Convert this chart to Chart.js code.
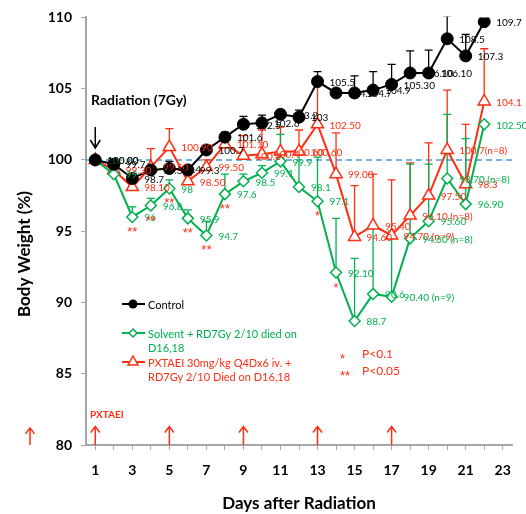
<!DOCTYPE html>
<html>
<head>
<meta charset="utf-8">
<script src="https://cdn.jsdelivr.net/npm/chart.js@4.4.0/dist/chart.umd.min.js"></script>
<style>
  html, body { margin: 0; padding: 0; background: #fff; }
</style>
</head>
<body>
<canvas id="bw_chart" width="526" height="514"></canvas>
<script>
var days = [1, 2, 3, 4, 5, 6, 7, 8, 9, 10, 11, 12, 13, 14, 15, 16, 17, 18, 19, 20, 21, 22];
var xTickDays = [1, 3, 5, 7, 9, 11, 13, 15, 17, 19, 21, 23];
var yTicks = [80, 85, 90, 95, 100, 105, 110];

var control = [100, 99.7, 98.7, 99.3, 99.4, 99.3, 100.7, 101.6, 102.5, 102.6, 103.2, 103.0, 105.5, 104.7, 104.7, 104.9, 105.3, 106.1, 106.1, 108.5, 107.3, 109.7];
var controlErr = [0, 0.3, 0.2, 0.3, 0.5, 0.3, 0.3, 0.35, 0.55, 0.55, 0.3, 0.5, 0.7, 0.3, 1.2, 1.3, 1.4, 1.55, 1.6, 1.6, 1.5, 0];
var controlLabels = ["100.00", "99.7", "98.7", "99.3", "99.4", "99.3", "100.7", "101.6", "102.5", "102.6", "103.2", "103", "105.5", "104.7", "104.7", "104.9", "105.30", "106.10", "106.10", "108.5", "107.3", "109.7"];

var solvent = [100, 99.0, 96.0, 96.8, 98.0, 95.9, 94.7, 97.6, 98.5, 99.1, 99.9, 98.1, 97.1, 92.1, 88.7, 90.6, 90.4, 94.5, 95.7, 98.7, 96.9, 102.5];
var solventErr = [0, 0.3, 0.7, 0.5, 0.6, 0.6, 1.0, 1.4, 0.5, 0.5, 1.9, 2.4, 3.1, 3.8, 4.4, 4.7, 4.6, 5.2, 4.0, 4.5, 4.6, 0];
var solventLabels = ["100.00", "99", "96", "96.8", "98", "95.9", "94.7", "97.6", "98.5", "99.1", "99.9", "98.1", "97.1", "92.10", "88.7", "90.6", "90.40 (n=9)", "94.60 (n=8)", "95.60", "98.70 (n=8)", "96.90", "102.50"];

var pxtaei = [100, 99.3, 98.1, 99.5, 100.9, 98.5, 99.5, 101.1, 100.3, 100.4, 100.6, 100.6, 102.5, 99.0, 94.6, 95.4, 94.7, 96.1, 97.5, 100.7, 98.3, 104.1];
var pxtaeiErr = [0, 0.4, 0.4, 1.3, 1.3, 0.4, 0.5, 0.8, 1.4, 1.7, 1.7, 1.5, 2.8, 2.9, 3.6, 3.6, 3.9, 3.7, 3.7, 4.2, 4.2, 3.7];
var pxtaeiLabels = ["100.00", "99.30", "98.10", "99.50", "100.90", "98.50", "99.50", "101.10", "100.3", "100.4", "100.60", "100.60", "102.50", "99.00", "94.60", "95.40", "94.70 (n=9)", "96.10 (n=8)", "97.50", "100.7(n=8)", "98.3", "104.1"];

var starDays = [3, 4, 5, 6, 7, 8, 13, 14];
var starMarks = ["**", "**", "**", "**", "**", "**", "*", "*"];
var doseDays = [1, 5, 9, 13, 17];

var BLACK = "#000000";
var GREEN = "#00b050";
var RED = "#ff2d12";
var AXIS = "#a6a6a6";

function pts(vals) {
  return days.map(function (d, i) { return { x: d, y: vals[i] }; });
}

function upArrow(ctx, x, yBottom, yTop) {
  ctx.beginPath();
  ctx.moveTo(x, yBottom);
  ctx.lineTo(x, yTop);
  ctx.moveTo(x - 4.5, yTop + 6);
  ctx.lineTo(x, yTop);
  ctx.lineTo(x + 4.5, yTop + 6);
  ctx.stroke();
}

var series = [
  { vals: control, err: controlErr, labels: controlLabels, color: BLACK },
  { vals: solvent, err: solventErr, labels: solventLabels, color: GREEN },
  { vals: pxtaei, err: pxtaeiErr, labels: pxtaeiLabels, color: RED }
];

var extras = {
  id: "extras",
  beforeDatasetsDraw: function (chart) {
    var ctx = chart.ctx, xs = chart.scales.x, ys = chart.scales.y, area = chart.chartArea;
    ctx.save();
    // baseline at 100 %
    ctx.strokeStyle = "#4a9bdc";
    ctx.lineWidth = 1.5;
    ctx.setLineDash([6, 4]);
    ctx.beginPath();
    ctx.moveTo(area.left, ys.getPixelForValue(100));
    ctx.lineTo(area.right, ys.getPixelForValue(100));
    ctx.stroke();
    ctx.setLineDash([]);
    // error bars (upper only)
    ctx.beginPath();
    ctx.rect(area.left, area.top - 1, area.right - area.left, area.bottom - area.top);
    ctx.clip();
    series.slice().reverse().forEach(function (s) {
      ctx.strokeStyle = s.color;
      ctx.lineWidth = 1.3;
      days.forEach(function (d, i) {
        if (!s.err[i]) return;
        var x = xs.getPixelForValue(d);
        var y0 = ys.getPixelForValue(s.vals[i]);
        var y1 = ys.getPixelForValue(s.vals[i] + s.err[i]);
        ctx.beginPath();
        ctx.moveTo(x, y0);
        ctx.lineTo(x, y1);
        ctx.moveTo(x - 4, y1);
        ctx.lineTo(x + 4, y1);
        ctx.stroke();
      });
    });
    ctx.restore();
  },
  afterDatasetsDraw: function (chart) {
    var ctx = chart.ctx, xs = chart.scales.x, ys = chart.scales.y, area = chart.chartArea;
    ctx.save();
    // data labels
    ctx.font = "10px Lato";
    ctx.textBaseline = "middle";
    ctx.textAlign = "left";
    series.slice().reverse().forEach(function (s) {
      ctx.fillStyle = s.color;
      days.forEach(function (d, i) {
        ctx.fillText(s.labels[i], xs.getPixelForValue(d) + 12, ys.getPixelForValue(s.vals[i]) + 1);
      });
    });
    // significance stars under solvent points
    ctx.fillStyle = RED;
    ctx.font = "13px 'Liberation Sans'";
    ctx.textAlign = "center";
    ctx.textBaseline = "alphabetic";
    starDays.forEach(function (d, i) {
      ctx.fillText(starMarks[i], xs.getPixelForValue(d), ys.getPixelForValue(solvent[d - 1]) + 19);
    });
    // radiation note + arrow
    ctx.fillStyle = BLACK;
    ctx.textAlign = "left";
    ctx.font = "bold 14px Lato";
    ctx.fillText("Radiation (7Gy)", 91, 105);
    var ax = xs.getPixelForValue(1);
    ctx.strokeStyle = BLACK;
    ctx.lineWidth = 1.5;
    ctx.beginPath();
    ctx.moveTo(ax, 127);
    ctx.lineTo(ax, 148);
    ctx.moveTo(ax - 5, 140);
    ctx.lineTo(ax, 148);
    ctx.lineTo(ax + 5, 140);
    ctx.stroke();
    // dosing arrows
    ctx.strokeStyle = RED;
    ctx.lineWidth = 1.5;
    doseDays.forEach(function (d) {
      upArrow(ctx, xs.getPixelForValue(d), area.bottom, ys.getPixelForValue(81.3));
    });
    upArrow(ctx, 30, area.bottom, ys.getPixelForValue(81.2));
    ctx.fillStyle = RED;
    ctx.font = "bold 10px Lato";
    ctx.fillText("PXTAEI", 90, 418);
    // legend
    ctx.font = "11px Lato";
    ctx.textBaseline = "middle";
    ctx.lineWidth = 2;
    ctx.strokeStyle = BLACK;
    ctx.beginPath(); ctx.moveTo(122, 304); ctx.lineTo(145, 304); ctx.stroke();
    ctx.fillStyle = BLACK;
    ctx.beginPath(); ctx.arc(133, 304, 4.5, 0, Math.PI * 2); ctx.fill();
    ctx.fillText("Control", 148, 305);
    ctx.strokeStyle = GREEN;
    ctx.beginPath(); ctx.moveTo(122, 333); ctx.lineTo(145, 333); ctx.stroke();
    ctx.fillStyle = "#fff";
    ctx.lineWidth = 1.5;
    ctx.beginPath(); ctx.moveTo(133, 329); ctx.lineTo(137, 333); ctx.lineTo(133, 337); ctx.lineTo(129, 333); ctx.closePath(); ctx.fill(); ctx.stroke();
    ctx.fillStyle = GREEN;
    ctx.fillText("Solvent + RD7Gy 2/10 died on", 148, 334);
    ctx.fillText("D16,18", 148, 348);
    ctx.strokeStyle = RED;
    ctx.lineWidth = 2;
    ctx.beginPath(); ctx.moveTo(122, 362); ctx.lineTo(145, 362); ctx.stroke();
    ctx.fillStyle = "#fff";
    ctx.lineWidth = 1.5;
    ctx.beginPath(); ctx.moveTo(133, 356); ctx.lineTo(138, 365); ctx.lineTo(128, 365); ctx.closePath(); ctx.fill(); ctx.stroke();
    ctx.fillStyle = RED;
    ctx.fillText("PXTAEI 30mg/kg Q4Dx6 iv. +", 148, 363);
    ctx.fillText("RD7Gy 2/10 Died on D16,18", 148, 377);
    // p-values
    ctx.font = "12px Lato";
    ctx.fillText("P<0.1", 362, 354);
    ctx.fillText("P<0.05", 362, 371);
    ctx.font = "13px 'Liberation Sans'";
    ctx.textBaseline = "alphabetic";
    ctx.fillText("*", 340, 363);
    ctx.fillText("**", 340, 380);
    // axis titles
    ctx.fillStyle = BLACK;
    ctx.font = "bold 17px Lato";
    ctx.textAlign = "center";
    ctx.textBaseline = "middle";
    ctx.fillText("Days after Radiation", (area.left + area.right) / 2, 504);
    ctx.translate(25, 254);
    ctx.rotate(-Math.PI / 2);
    ctx.fillText("Body Weight (%)", 0, 0);
    ctx.restore();
  }
};

var ctx = document.getElementById("bw_chart");
var myChart = new Chart(ctx, {
  type: "line",
  data: {
    datasets: [
      {
        label: "Control",
        data: pts(control),
        borderColor: BLACK,
        backgroundColor: BLACK,
        borderWidth: 2,
        pointStyle: "circle",
        pointRadius: 6,
        pointBorderWidth: 1,
        pointBackgroundColor: BLACK,
        pointBorderColor: BLACK
      },
      {
        label: "Solvent + RD7Gy 2/10 died on D16,18",
        data: pts(solvent),
        borderColor: GREEN,
        borderWidth: 2,
        pointStyle: "rectRot",
        pointRadius: 5.5,
        pointBorderWidth: 1.5,
        pointBackgroundColor: "#ffffff",
        pointBorderColor: GREEN
      },
      {
        label: "PXTAEI 30mg/kg Q4Dx6 iv. + RD7Gy 2/10 Died on D16,18",
        data: pts(pxtaei),
        borderColor: RED,
        borderWidth: 2,
        pointStyle: "triangle",
        pointRadius: 7,
        pointBorderWidth: 1.5,
        pointBackgroundColor: "#ffffff",
        pointBorderColor: RED
      }
    ]
  },
  options: {
    responsive: false,
    animation: false,
    layout: { padding: { left: 0, top: 16, right: 14, bottom: 0 } },
    plugins: {
      legend: { display: false },
      tooltip: { enabled: false }
    },
    scales: {
      x: {
        type: "linear",
        min: 0.5,
        max: 23.5,
        afterBuildTicks: function (scale) {
          var t = [];
          for (var d = 1; d <= 23; d++) t.push({ value: d });
          scale.ticks = t;
        },
        afterFit: function (scale) { scale.height = 69; },
        ticks: {
          autoSkip: false,
          maxRotation: 0,
          padding: 12,
          color: BLACK,
          font: { family: "Lato", weight: "bold", size: 14 },
          callback: function (v) { return xTickDays.indexOf(v) >= 0 ? String(v) : ""; }
        },
        grid: { drawOnChartArea: false, drawTicks: true, tickLength: 5, color: AXIS },
        border: { color: AXIS, width: 2 }
      },
      y: {
        min: 80,
        max: 110,
        afterBuildTicks: function (scale) {
          scale.ticks = yTicks.map(function (v) { return { value: v }; });
        },
        afterFit: function (scale) { scale.width = 86; },
        ticks: {
          padding: 9,
          color: BLACK,
          font: { family: "Lato", weight: "bold", size: 14 }
        },
        grid: { drawOnChartArea: false, drawTicks: true, tickLength: 5, color: AXIS },
        border: { color: AXIS, width: 2 }
      }
    }
  },
  plugins: [extras]
});
</script>
</body>
</html>
